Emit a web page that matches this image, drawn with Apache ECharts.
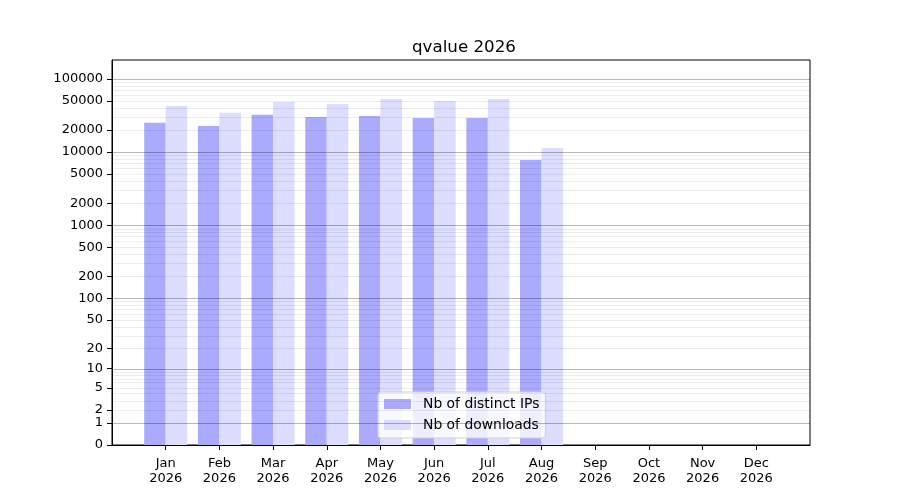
<!DOCTYPE html>
<html>
<head>
<meta charset="utf-8">
<script src="https://cdn.jsdelivr.net/npm/echarts@6/dist/echarts.min.js"></script>
<style>
  html, body { margin: 0; padding: 0; background: #fff; }
  #chart { width: 900px; height: 500px; }
</style>
</head>
<body>
<div id="chart"></div>
<script>
// data
var months = ['Jan', 'Feb', 'Mar', 'Apr', 'May', 'Jun', 'Jul', 'Aug', 'Sep', 'Oct', 'Nov', 'Dec'];
var yearLabel = '2026';
var distinctIps = [25100, 22650, 32300, 30100, 31000, 29100, 29100, 7780];
var downloads = [42500, 34400, 48200, 45300, 53000, 49700, 53000, 11350];
var yTickLabels = [0, 1, 2, 5, 10, 20, 50, 100, 200, 500, 1000, 2000, 5000, 10000, 20000, 50000, 100000];
var majorGrid = [1, 10, 100, 1000, 10000, 100000];
var minorGrid = [];
for (var d = 1; d <= 10000; d *= 10) {
    for (var m = 2; m <= 9; m++) {
        minorGrid.push(m * d);
    }
}

// y scale is log10(1 + v)
function sc(v) {
    return Math.log10(1 + v);
}

var chart = echarts.init(document.getElementById('chart'));

function toPoints(list) {
    var out = [];
    for (var i = 0; i < list.length; i++) {
        out.push([i, sc(list[i])]);
    }
    return out;
}

var gridLines = [];
for (var i = 0; i < minorGrid.length; i++) {
    gridLines.push({ yAxis: sc(minorGrid[i]), lineStyle: { color: 'rgba(0,0,0,0.075)', width: 1, type: 'solid' } });
}
for (var i = 0; i < majorGrid.length; i++) {
    gridLines.push({ yAxis: sc(majorGrid[i]), lineStyle: { color: 'rgba(0,0,0,0.28)', width: 1, type: 'solid' } });
}

var font = 'DejaVu Sans';
var monthIdx = months.map(function (m, i) { return i; });

var option = {
    animation: false,
    backgroundColor: '#fff',
    title: {
        text: 'qvalue 2026',
        left: 459,
        top: 34,
        textAlign: 'center',
        textStyle: { fontFamily: font, fontSize: 16.7, fontWeight: 'normal', color: '#000' }
    },
    grid: {
        left: 112, right: 90, top: 60, bottom: 55,
        show: true, borderColor: '#000', borderWidth: 1, backgroundColor: 'transparent'
    },
    legend: {
        left: 378,
        top: 392,
        orient: 'vertical',
        itemWidth: 27,
        itemHeight: 10,
        itemGap: 7,
        padding: [5, 6, 6, 6],
        backgroundColor: 'rgba(255,255,255,0.8)',
        borderColor: '#d0d0d0',
        borderWidth: 1,
        borderRadius: 3,
        textStyle: { fontFamily: font, fontSize: 13.9, color: '#000', padding: [0, 0, 0, 7] },
        data: [
            { name: 'Nb of distinct IPs', icon: 'rect' },
            { name: 'Nb of downloads', icon: 'rect' }
        ]
    },
    xAxis: {
        type: 'value',
        min: -1,
        max: 12,
        interval: 1,
        splitLine: { show: false },
        axisLine: { show: true, onZero: false, lineStyle: { color: '#000' } },
        axisTick: {
            show: true, length: 5, inside: false,
            lineStyle: { color: '#000' },
            customValues: monthIdx
        },
        axisLabel: {
            fontFamily: font, fontSize: 13, color: '#000', lineHeight: 15, margin: 11,
            customValues: monthIdx,
            formatter: function (v) {
                var k = Math.round(v);
                return months[k] ? months[k] + '\n' + yearLabel : '';
            }
        }
    },
    yAxis: {
        type: 'value',
        min: 0,
        max: 5.257,
        splitLine: { show: false },
        axisLine: { show: true, onZero: false, lineStyle: { color: '#000' } },
        axisTick: {
            show: true, length: 5,
            lineStyle: { color: '#000' },
            customValues: yTickLabels.map(sc)
        },
        axisLabel: {
            fontFamily: font, fontSize: 13, color: '#000', margin: 9,
            customValues: yTickLabels.map(sc),
            formatter: function (v) {
                return String(Math.round(Math.pow(10, v) - 1));
            }
        }
    },
    series: [
        {
            name: 'Nb of distinct IPs',
            type: 'bar',
            barWidth: 21.5,
            barGap: '0%',
            itemStyle: { color: '#aaaaff' },
            data: toPoints(distinctIps),
            markLine: {
                silent: true,
                symbol: ['none', 'none'],
                label: { show: false },
                animation: false,
                data: gridLines
            }
        },
        {
            name: 'Nb of downloads',
            type: 'bar',
            barWidth: 21.5,
            barGap: '0%',
            itemStyle: { color: '#ddddff' },
            data: toPoints(downloads)
        }
    ]
};

chart.setOption(option);
</script>
</body>
</html>
